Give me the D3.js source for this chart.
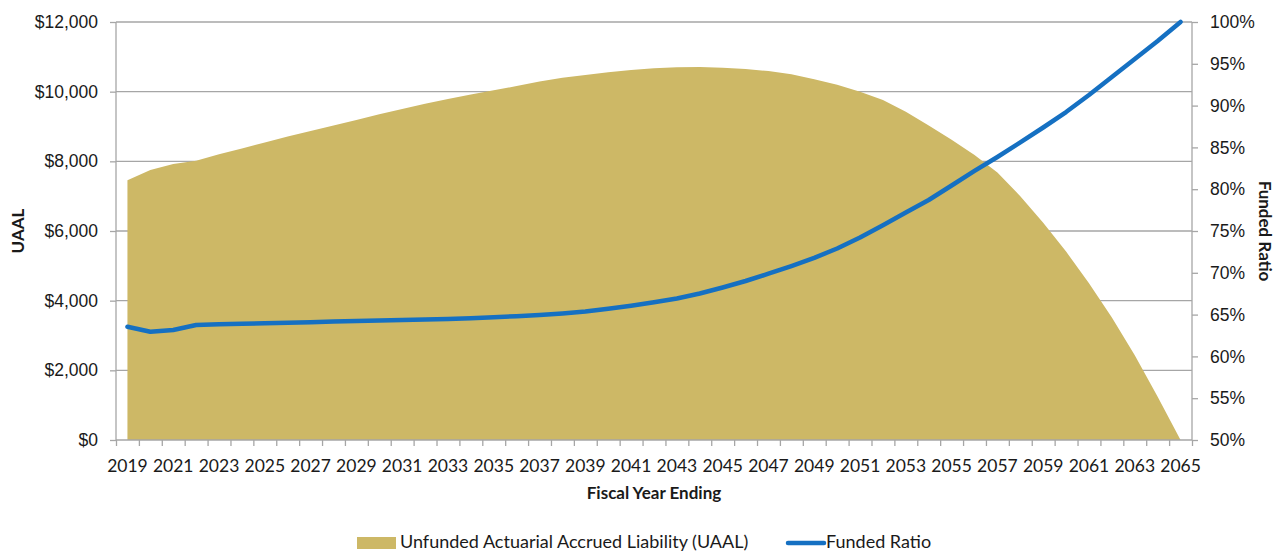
<!DOCTYPE html>
<html>
<head>
<meta charset="utf-8">
<script src="https://cdn.jsdelivr.net/npm/d3@7"></script>
<style>
  html, body { margin: 0; padding: 0; background: #fff; }
  svg { display: block; font-family: Lato, "Open Sans", sans-serif; }
  .axis path, .axis line { stroke: #a6a6a6; stroke-width: 1.3; }
  .axis text { fill: #1a1a1a; font-size: 17.5px; }
</style>
</head>
<body>
<svg id="chart" width="1275" height="551"></svg>
<script>
// Fiscal years shown on the category axis
const years = d3.range(2019, 2066);

// Unfunded Actuarial Accrued Liability ($ thousands), one value per year
const uaal = [
  7460, 7750, 7920, 8020, 8200, 8370, 8540, 8710, 8870, 9030,
  9190, 9350, 9500, 9650, 9790, 9920, 10040, 10160, 10290, 10400,
  10480, 10560, 10620, 10670, 10700, 10710, 10690, 10650, 10590, 10500,
  10360, 10200, 10000, 9760, 9420, 9030, 8620, 8180, 7680, 7000,
  6240, 5410, 4500, 3520, 2430, 1240, 0
];

// Funded ratio, one value per year
const fundedRatio = [
  0.6355, 0.6295, 0.6316, 0.6376, 0.6384, 0.6391, 0.6397, 0.6403, 0.6409, 0.6416,
  0.6422, 0.6428, 0.6434, 0.6440, 0.6447, 0.6457, 0.6469, 0.6481, 0.6495, 0.6513,
  0.6537, 0.6569, 0.6605, 0.6647, 0.6693, 0.6752, 0.6824, 0.6902, 0.6989, 0.7081,
  0.7179, 0.7291, 0.7422, 0.7568, 0.7721, 0.7871, 0.8044, 0.8218, 0.8385, 0.8559,
  0.8738, 0.8923, 0.9127, 0.9342, 0.9557, 0.9773, 1.0000
];

// Axis ticks
const uaalTicks = [0, 2000, 4000, 6000, 8000, 10000, 12000];
const ratioTicks = [0.50, 0.55, 0.60, 0.65, 0.70, 0.75, 0.80, 0.85, 0.90, 0.95, 1.00];
const yearLabels = years.filter(y => y % 2 === 1);

const seriesNames = ["Unfunded Actuarial Accrued Liability (UAAL)", "Funded Ratio"];
const areaColor = "#cdb866";
const lineColor = "#1570c2";

const data = years.map((yr, i) => ({ year: yr, uaal: uaal[i], ratio: fundedRatio[i] }));

const svg = d3.select("#chart");
const plot = { left: 116, right: 1192, top: 22, bottom: 440 };

const x = d3.scaleLinear().domain([2018.5, 2065.5]).range([plot.left, plot.right]);
const y = d3.scaleLinear().domain([0, 12000]).range([plot.bottom, plot.top]);
const y2 = d3.scaleLinear().domain([0.5, 1.0]).range([plot.bottom, plot.top]);

// Horizontal gridlines
svg.append("g")
  .selectAll("line")
  .data(uaalTicks.filter(d => d > 0))
  .join("line")
  .attr("x1", plot.left).attr("x2", plot.right)
  .attr("y1", d => y(d)).attr("y2", d => y(d))
  .attr("stroke", "#a6a6a6").attr("stroke-width", 1.3);

// UAAL area
svg.append("path")
  .datum(data)
  .attr("fill", areaColor)
  .attr("d", d3.area()
    .x(d => x(d.year))
    .y0(y(0))
    .y1(d => y(d.uaal)));

// Left axis
svg.append("g").attr("class", "axis")
  .attr("transform", `translate(${plot.left},0)`)
  .call(d3.axisLeft(y).tickValues(uaalTicks).tickSize(6).tickPadding(12)
    .tickFormat(d => "$" + d3.format(",")(d)))
  .call(g => g.select(".domain").attr("d", `M0,${plot.bottom}V${plot.top}`));

// Right axis
svg.append("g").attr("class", "axis")
  .attr("transform", `translate(${plot.right},0)`)
  .call(d3.axisRight(y2).tickValues(ratioTicks).tickSize(6).tickPadding(12)
    .tickFormat(d3.format(".0%")))
  .call(g => g.select(".domain").attr("d", `M0,${plot.bottom}V${plot.top}`));

// Bottom axis: tick marks between categories
const boundaries = d3.range(2018.5, 2066, 1);
svg.append("g").attr("class", "axis")
  .attr("transform", `translate(0,${plot.bottom})`)
  .call(d3.axisBottom(x).tickValues(boundaries).tickSize(6).tickFormat(""))
  .call(g => g.select(".domain").attr("d", `M${plot.left},0H${plot.right}`));

// Year labels
svg.append("g")
  .selectAll("text")
  .data(yearLabels)
  .join("text")
  .attr("x", d => x(d))
  .attr("y", 472)
  .attr("text-anchor", "middle")
  .attr("fill", "#1a1a1a")
  .attr("font-size", 17.5)
  .text(d => d);

// Funded ratio line
svg.append("path")
  .datum(data)
  .attr("fill", "none")
  .attr("stroke", lineColor)
  .attr("stroke-width", 4.5)
  .attr("stroke-linejoin", "round")
  .attr("stroke-linecap", "round")
  .attr("d", d3.line()
    .x(d => x(d.year))
    .y(d => y2(d.ratio)));

// Axis titles
svg.append("text")
  .attr("transform", "translate(24,231) rotate(-90)")
  .attr("text-anchor", "middle")
  .attr("font-weight", "bold").attr("font-size", 17).attr("fill", "#1a1a1a")
  .text("UAAL");

svg.append("text")
  .attr("transform", "translate(1259,231) rotate(90)")
  .attr("text-anchor", "middle")
  .attr("font-weight", "bold").attr("font-size", 17).attr("fill", "#1a1a1a")
  .text("Funded Ratio");

svg.append("text")
  .attr("x", (plot.left + plot.right) / 2).attr("y", 499)
  .attr("text-anchor", "middle")
  .attr("font-weight", "bold").attr("font-size", 17).attr("fill", "#1a1a1a")
  .text("Fiscal Year Ending");

// Legend
const legend = svg.append("g");
legend.append("rect")
  .attr("x", 357).attr("y", 537).attr("width", 39).attr("height", 12)
  .attr("fill", areaColor);
legend.append("text")
  .attr("x", 400).attr("y", 548)
  .attr("font-size", 18).attr("fill", "#1a1a1a")
  .text(seriesNames[0]);
legend.append("line")
  .attr("x1", 788).attr("x2", 824).attr("y1", 543).attr("y2", 543)
  .attr("stroke", lineColor).attr("stroke-width", 4.5).attr("stroke-linecap", "round");
legend.append("text")
  .attr("x", 826).attr("y", 548)
  .attr("font-size", 18).attr("fill", "#1a1a1a")
  .text(seriesNames[1]);
</script>
</body>
</html>
